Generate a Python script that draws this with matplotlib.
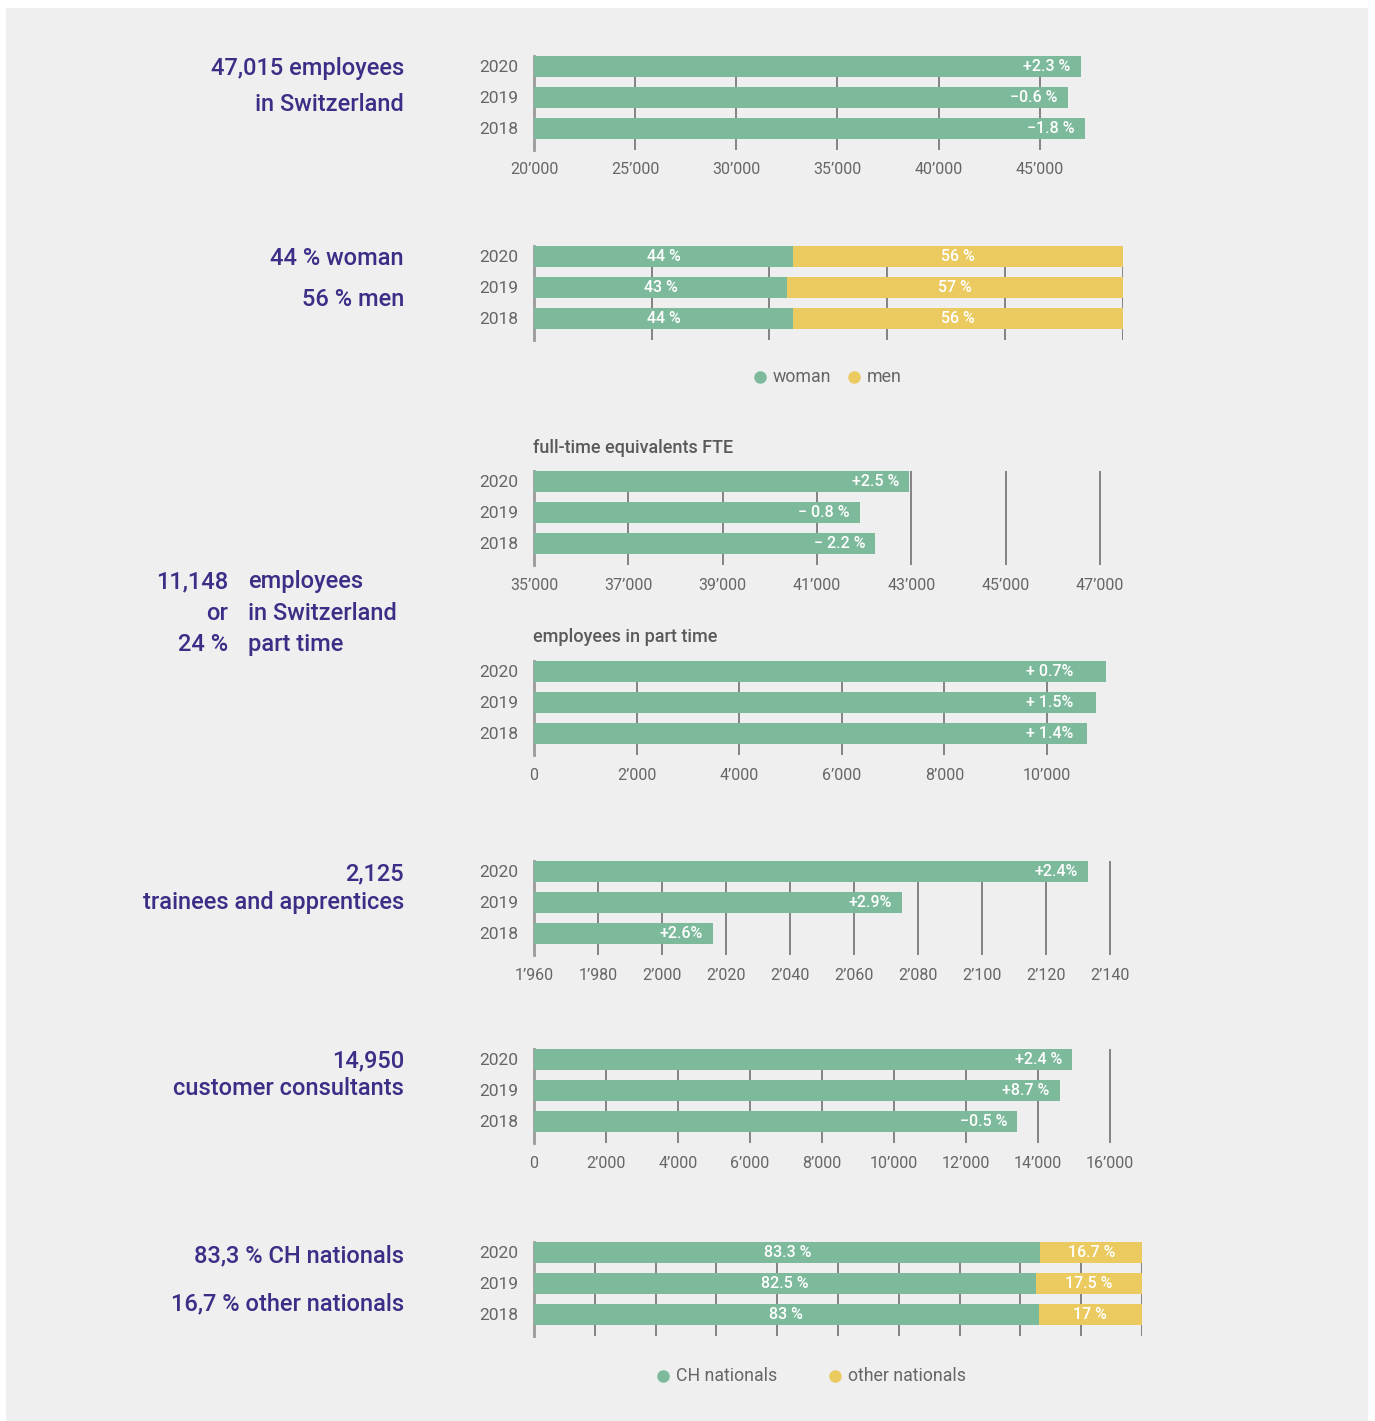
import matplotlib
matplotlib.use("Agg")
import matplotlib.pyplot as plt
from matplotlib.lines import Line2D
from matplotlib.patches import Rectangle

plt.rcParams['font.family'] = ['Roboto', 'DejaVu Sans']

# ---------------- data ----------------
years = ["2020", "2019", "2018"]

employees = [47015, 46380, 47220]
employees_change = ["+2.3 %", "\u22120.6 %", "\u22121.8 %"]

women_share = [44, 43, 44]
men_share = [56, 57, 56]

fte = [42950, 41905, 42240]
fte_change = ["+2.5 %", "\u2212 0.8 %", "\u2212 2.2 %"]

part_time = [11148, 10950, 10770]
part_time_change = ["+ 0.7%", "+ 1.5%", "+ 1.4%"]

trainees = [2133, 2075, 2016]
trainees_change = ["+2.4%", "+2.9%", "+2.6%"]

consultants = [14950, 14600, 13430]
consultants_change = ["+2.4 %", "+8.7 %", "\u22120.5 %"]

ch_share = [83.3, 82.5, 83]
other_share = [16.7, 17.5, 17]
ch_labels = ["83.3 %", "82.5 %", "83 %"]
other_labels = ["16.7 %", "17.5 %", "17 %"]
women_labels = ["44 %", "43 %", "44 %"]
men_labels = ["56 %", "57 %", "56 %"]

# ---------------- style ----------------
W, H = 1375, 1421
GREEN = "#7dba9c"
YELLOW = "#ebca60"
PANEL = "#efefef"
PURPLE = "#3a2e86"
GRAY_TXT = "#666666"
GRID = "#707070"
HEAD_SIZE = 17
BAR_TXT = 11.5

fig = plt.figure(figsize=(W / 100, H / 100), dpi=100)
fig.patch.set_facecolor("white")
fig.add_artist(Rectangle((6 / W, 0), (1368 - 6) / W, 1 - 8 / H,
                         transform=fig.transFigure, facecolor=PANEL,
                         edgecolor="none", zorder=-10))

LEFT = 534
PANEL_H = 94          # axis height in pixels (top of first bar to grid bottom)
PITCH = 31            # pixels between bar centres
BAR_H = 20.7 / PITCH  # bar thickness in category units
TOP_PAD = BAR_H / 2


def fmt(v):
    return f"{v:,}".replace(",", "\u2019")


def make_axes(top, xmin, xmax, px_per_unit, ticks, show_labels=True):
    width_px = (xmax - xmin) * px_per_unit
    ax = fig.add_axes([LEFT / W, 1 - (top + PANEL_H) / H, width_px / W, PANEL_H / H])
    ax.set_facecolor("none")
    ax.set_xlim(xmin, xmax)
    ax.set_ylim(-TOP_PAD + PANEL_H / PITCH, -TOP_PAD)
    ax.set_xticks(ticks)
    if show_labels:
        ax.set_xticklabels([fmt(t) for t in ticks])
    else:
        ax.set_xticklabels([])
    ax.tick_params(axis="x", length=0, pad=9, labelsize=11.5, labelcolor=GRAY_TXT)
    ax.set_yticks(range(len(years)))
    ax.set_yticklabels(years)
    ax.tick_params(axis="y", length=0, pad=11, labelsize=12.5, labelcolor=GRAY_TXT)
    ax.grid(axis="x", color=GRID, lw=1.2)
    ax.grid(axis="y", visible=False)
    ax.set_axisbelow(True)
    for s in ("top", "right", "bottom"):
        ax.spines[s].set_visible(False)
    ax.spines["left"].set_color("#9a9a9a")
    ax.spines["left"].set_linewidth(2)
    return ax


def change_bars(ax, values, labels, inset=10, center_at=None):
    x0 = ax.get_xlim()[0]
    ypos = list(range(len(values)))
    ax.barh(ypos, [v - x0 for v in values], left=x0, height=BAR_H,
            color=GREEN, zorder=3)
    for i, (v, lab) in enumerate(zip(values, labels)):
        if center_at is None:
            ax.annotate(lab, xy=(v, i), xytext=(-inset, 0), textcoords="offset pixels",
                        ha="right", va="center", color="white", fontsize=BAR_TXT,
                        fontweight="medium", zorder=4)
        else:
            ax.text(center_at, i, lab, ha="center", va="center", color="white",
                    fontsize=BAR_TXT, fontweight="medium", zorder=4)


def share_bars(ax, first, second, first_labels, second_labels):
    ypos = list(range(len(first)))
    ax.barh(ypos, first, height=BAR_H, color=GREEN, zorder=3)
    ax.barh(ypos, second, left=first, height=BAR_H, color=YELLOW, zorder=3)
    for i in ypos:
        ax.text(first[i] / 2, i, first_labels[i], ha="center", va="center",
                color="white", fontsize=BAR_TXT, fontweight="medium", zorder=4)
        ax.text(first[i] + second[i] / 2, i, second_labels[i], ha="center",
                va="center", color="white", fontsize=BAR_TXT, fontweight="medium",
                zorder=4)


def ftext(x, y, s, ha="right", size=HEAD_SIZE, color=PURPLE, weight="medium",
          va="baseline"):
    fig.text(x / W, 1 - y / H, s, ha=ha, va=va, fontsize=size, color=color,
             fontweight=weight)


def legend_item(x, y, color, label):
    fig.add_artist(Line2D([x / W], [1 - y / H], marker="o", markersize=8,
                          color=color, linestyle="none", transform=fig.transFigure))
    fig.text((x + 13) / W, 1 - y / H, label, ha="left", va="center",
             fontsize=12.8, color=GRAY_TXT)


# ---- employees ----
ax1 = make_axes(56, 20000, 47600, 20.23 / 1000, list(range(20000, 45001, 5000)))
change_bars(ax1, employees, employees_change)
ftext(404, 75, "47,015 employees")
ftext(404, 111, "in Switzerland")

# ---- gender ----
ax2 = make_axes(246, 0, 100, 5.885, list(range(0, 101, 20)), show_labels=False)
share_bars(ax2, women_share, men_share, women_labels, men_labels)
ftext(404, 265, "44 % woman")
ftext(404, 306, "56 % men")
legend_item(760, 377, GREEN, "woman")
legend_item(854, 377, YELLOW, "men")

# ---- full-time equivalents ----
ftext(533, 453, "full-time equivalents FTE", ha="left", size=13, color="#5a5a5a")
ax3 = make_axes(471, 35000, 47100, 47.15 / 1000, list(range(35000, 47001, 2000)))
change_bars(ax3, fte, fte_change)

# ---- part time ----
ftext(533, 642, "employees in part time", ha="left", size=13, color="#5a5a5a")
ax4 = make_axes(661, 0, 11300, 51.3 / 1000, list(range(0, 10001, 2000)))
change_bars(ax4, part_time, part_time_change, center_at=10060)

ftext(228, 588, "11,148")
ftext(228, 620, "or")
ftext(228, 651, "24 %")
ftext(248, 588, "employees", ha="left")
ftext(248, 620, "in Switzerland", ha="left")
ftext(248, 651, "part time", ha="left")

# ---- trainees ----
ax5 = make_axes(861, 1960, 2141, 3.2, list(range(1960, 2141, 20)))
change_bars(ax5, trainees, trainees_change)
ftext(404, 880, "2,125")
ftext(404, 909, "trainees and apprentices")

# ---- customer consultants ----
ax6 = make_axes(1049, 0, 16100, 36.0 / 1000, list(range(0, 16001, 2000)))
change_bars(ax6, consultants, consultants_change)
ftext(404, 1067, "14,950")
ftext(404, 1095, "customer consultants")

# ---- nationality ----
ax7 = make_axes(1242, 0, 100, 6.08, list(range(0, 101, 10)), show_labels=False)
share_bars(ax7, ch_share, other_share, ch_labels, other_labels)
ftext(404, 1262, "83,3 % CH nationals")
ftext(404, 1310, "16,7 % other nationals")
legend_item(663, 1376, GREEN, "CH nationals")
legend_item(835, 1376, YELLOW, "other nationals")

fig.savefig("out.png", dpi=100, facecolor=fig.get_facecolor())
